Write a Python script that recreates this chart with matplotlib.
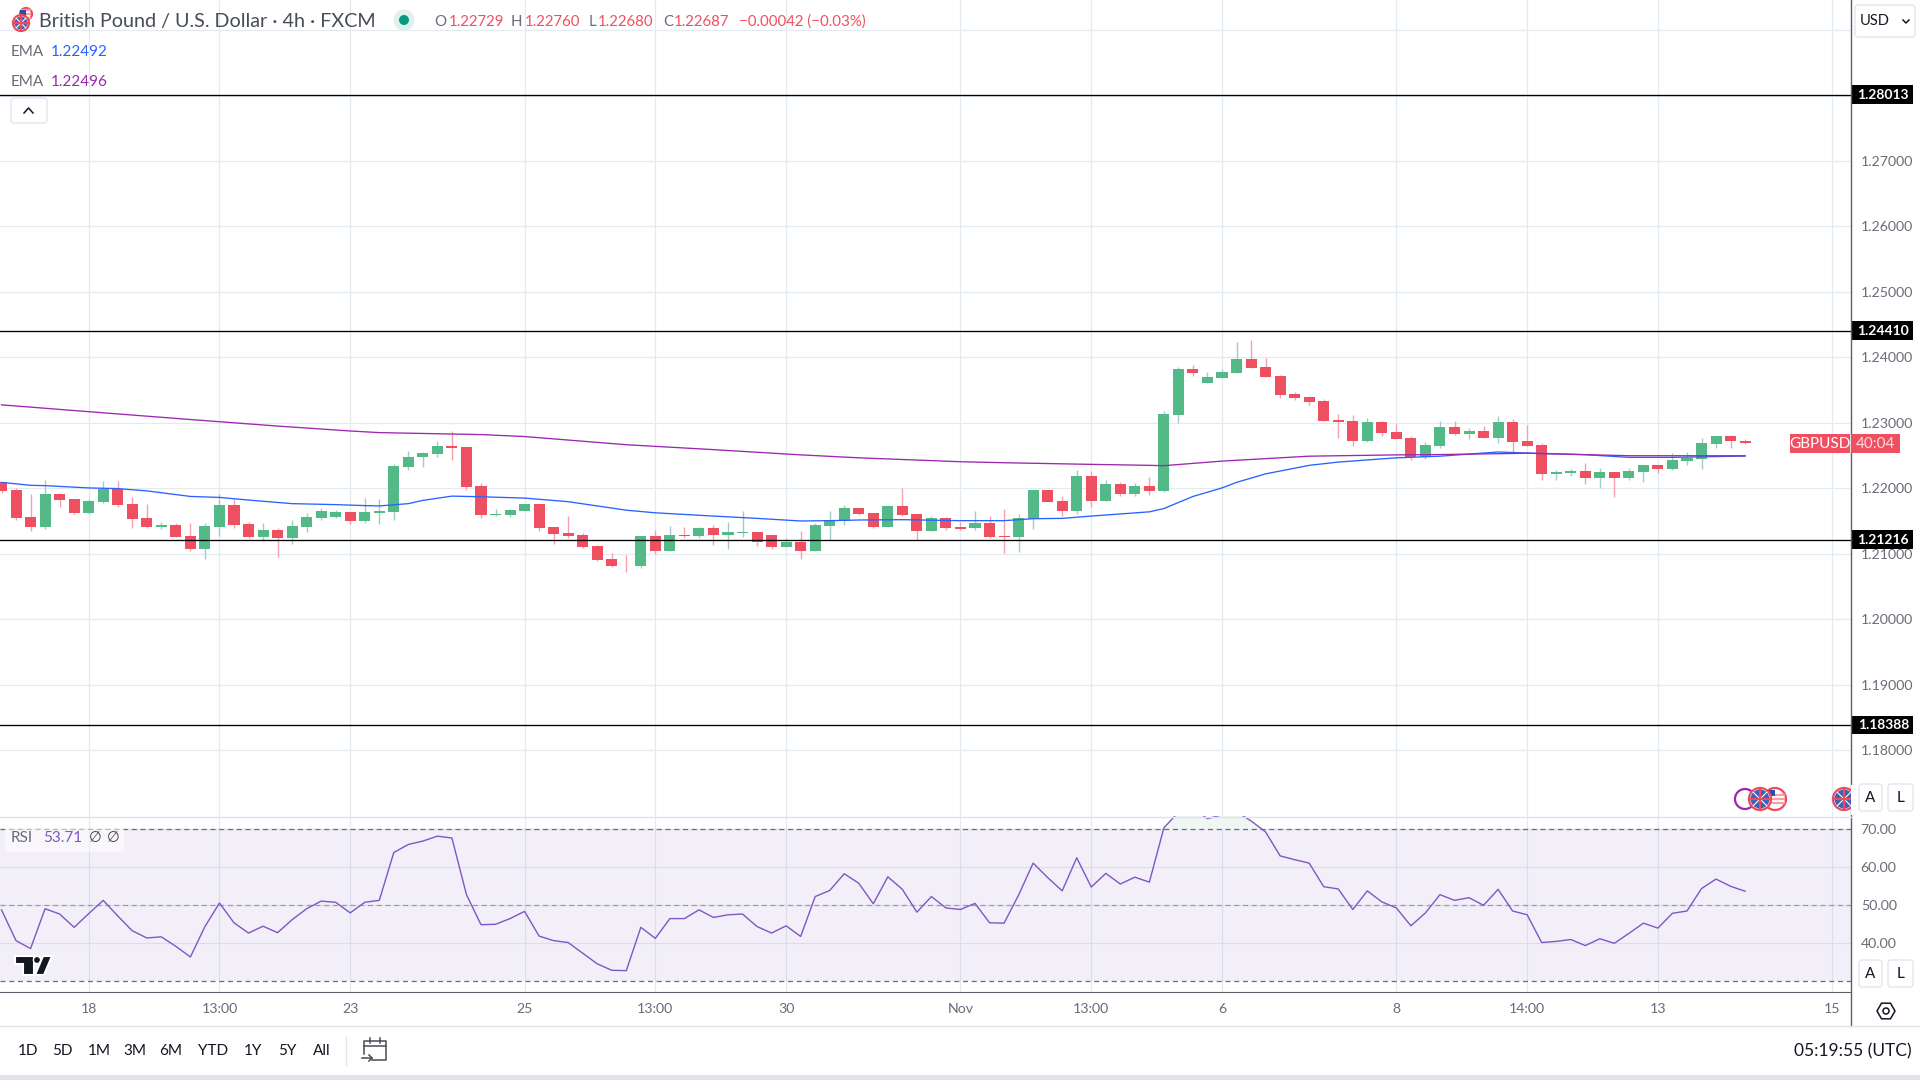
import numpy as np
import matplotlib
matplotlib.use('Agg')
import matplotlib.pyplot as plt
from matplotlib.patches import Rectangle, Circle, FancyBboxPatch, Polygon

plt.rcParams['font.family'] = ['Lato', 'DejaVu Sans']

# candles, one entry per 4h bar
opens = [1.2210,1.21975,1.21555,1.21405,1.21915,1.2184,1.21615,1.21795,1.2199,1.21765,1.2154,1.21405,1.21435,1.2127,1.21075,1.21405,1.2175,1.2145,1.21255,1.2136,1.2124,1.21405,1.2154,1.21555,1.2163,1.21495,1.21615,1.2163,1.2232,1.2247,1.2253,1.2265,1.22635,1.22035,
         1.21585,1.21585,1.2166,1.21765,1.21405,1.21315,1.21285,1.2112,1.20925,1.2082,1.20805,1.2127,1.21045,1.21285,1.2127,1.2139,1.21285,1.21315,1.2133,1.21285,1.21105,1.2118,1.21045,1.2142,1.21495,1.21705,1.21615,1.21405,1.21735,1.216,1.21345,1.2154,1.21405,
         1.2140,1.21475,1.21265,1.2125,1.21535,1.2197,1.21805,1.21655,1.2218,1.21805,1.2206,1.2191,1.2203,1.21955,1.23125,1.23815,1.23605,1.2368,1.23755,1.2398,1.23845,1.2371,1.2344,1.23395,1.23335,1.2305,1.2302,1.2272,1.23005,1.22855,1.22765,1.2248,
         1.2264,1.2293,1.22836,1.22882,1.22774,1.23005,1.22728,1.22667,1.2222,1.22236,1.22266,1.22159,1.22251,1.22159,1.22251,1.22359,1.22297,1.2242,1.22451,1.22682,1.22805,1.22729]
highs = [1.2210,1.2200,1.21915,1.22125,1.2193,1.2184,1.2184,1.2211,1.2211,1.2187,1.21765,1.2148,1.21465,1.21465,1.21465,1.21915,1.2184,1.2148,1.21465,1.2139,1.2151,1.21615,1.21705,1.21675,1.2163,1.21855,1.2184,1.22365,1.22575,1.2256,1.22725,1.22875,1.22635,1.2208,
         1.2169,1.2169,1.21765,1.21765,1.21405,1.2157,1.21315,1.21135,1.21015,1.20985,1.2127,1.2136,1.2142,1.21405,1.21405,1.21435,1.2148,1.21645,1.2133,1.21285,1.2124,1.21345,1.21465,1.2166,1.2175,1.21705,1.21615,1.2175,1.22005,1.216,1.2157,1.21555,1.2148,
         1.21655,1.2158,1.21685,1.2161,1.2197,1.21985,1.2188,1.22285,1.2227,1.2212,1.2209,1.22075,1.22165,1.23185,1.2386,1.2389,1.2377,1.23815,1.24235,1.24265,1.23995,1.23725,1.2347,1.2341,1.23365,1.2314,1.23125,1.2308,1.2302,1.22975,1.22795,1.22705,
         1.2302,1.2302,1.22928,1.22944,1.23097,1.23051,1.22959,1.22697,1.22282,1.22297,1.2239,1.22313,1.22251,1.22313,1.22359,1.22359,1.22543,1.22559,1.22774,1.22805,1.2282,1.22760]
lows = [1.21935,1.2151,1.21345,1.21375,1.2172,1.2160,1.2160,1.2178,1.2172,1.2139,1.2139,1.21375,1.21255,1.21045,1.20925,1.2127,1.2139,1.2124,1.21195,1.20955,1.2115,1.2133,1.2151,1.2154,1.2145,1.21465,1.2145,1.2151,1.22275,1.2232,1.22485,1.22425,1.21975,1.2154,
        1.2157,1.21555,1.2166,1.21345,1.2115,1.2124,1.2109,1.20895,1.2079,1.20715,1.20775,1.2100,1.21045,1.2124,1.2124,1.21135,1.21075,1.21255,1.2112,1.21075,1.21105,1.20925,1.21045,1.2121,1.21435,1.21585,1.2139,1.21405,1.2157,1.2121,1.21345,1.2136,1.2136,
        1.21355,1.21235,1.2101,1.21025,1.2137,1.2179,1.2158,1.2161,1.21715,1.21805,1.2188,1.2188,1.21895,1.2194,1.2299,1.2371,1.23605,1.2368,1.23755,1.2383,1.23695,1.2338,1.2335,1.23275,1.23035,1.22765,1.22645,1.22705,1.22795,1.2275,1.22435,1.2245,
        1.2262,1.2282,1.22759,1.22774,1.22697,1.22543,1.22651,1.22128,1.22128,1.2219,1.22066,1.22005,1.21866,1.22128,1.22097,1.22236,1.22282,1.22359,1.22297,1.2262,1.2262,1.22680]
closes = [1.2196,1.2154,1.21405,1.21915,1.21825,1.21615,1.2181,1.2199,1.2175,1.21525,1.21405,1.21435,1.21255,1.21075,1.2142,1.2175,1.21435,1.21255,1.2136,1.2124,1.2142,1.21555,1.21645,1.2163,1.21495,1.2163,1.21645,1.22335,1.22485,1.22545,1.2265,1.2262,1.2202,1.21585,
          1.2160,1.21675,1.21765,1.2139,1.2130,1.2127,1.21105,1.2091,1.20805,1.20805,1.2127,1.21045,1.21285,1.2127,1.2139,1.21285,1.2133,1.2133,1.2118,1.21105,1.2118,1.21045,1.21435,1.2151,1.21705,1.2160,1.21405,1.21735,1.21585,1.21345,1.2154,1.2139,1.21375,
          1.21475,1.2125,1.2125,1.2155,1.2197,1.2179,1.21655,1.2218,1.21805,1.2206,1.2191,1.2203,1.21955,1.2314,1.23815,1.23755,1.23695,1.2377,1.2398,1.2383,1.23695,1.23425,1.2338,1.2332,1.23035,1.23005,1.2272,1.23005,1.2284,1.2275,1.2248,1.2266,
          1.2293,1.22836,1.22882,1.22774,1.23005,1.22713,1.22651,1.2222,1.22251,1.22266,1.22159,1.22251,1.22159,1.22266,1.22359,1.22297,1.22436,1.22466,1.22697,1.22805,1.22728,1.22687]

ema_blue_i = [0,2,3,6,8,10,13,15,17,20,23,25,26,28,29,31,33,36,39,41,43,45,49,52,55,57,59,62,66,69,71,73,75,79,80,82,84,85,87,90,92,96,99,103,105,109,112,115,120]
ema_blue = [1.2209,1.22045,1.2204,1.22005,1.21995,1.2196,1.21875,1.2186,1.2182,1.21765,1.2175,1.21735,1.2173,1.21765,1.21815,1.2188,1.2187,1.2185,1.21795,1.2173,1.21665,1.21625,1.21575,1.2154,1.2150,1.21505,1.21515,1.2152,1.21505,1.21505,1.21535,1.2154,1.21575,1.2164,1.2169,1.21875,1.22005,1.2209,1.2222,1.2235,1.224,1.22465,1.2249,1.22554,1.22538,1.22513,1.22472,1.22472,1.22492]
ema_purple_i = [0,6,13,19,24,26,33,36,43,45,49,55,59,66,69,75,79,80,84,90,96,99,103,105,112,120]
ema_purple = [1.23274,1.2317,1.2305,1.2295,1.22875,1.2285,1.2282,1.2279,1.22665,1.2264,1.2259,1.2251,1.22465,1.22405,1.2239,1.22365,1.2235,1.22345,1.22415,1.2249,1.2251,1.22515,1.22528,1.22535,1.22497,1.22496]

rsi = [48.8,40.7,38.6,49.1,47.7,44.2,47.8,51.3,47.2,43.3,41.4,41.7,39.2,36.4,44.4,50.6,45.4,42.7,44.5,42.8,46.2,49.1,51.1,50.8,48.0,50.8,51.3,63.9,66.0,66.9,68.2,67.7,52.8,44.9,45.0,46.5,48.4,41.9,40.7,40.2,37.4,34.6,32.9,32.8,44.2,
       41.3,46.5,46.5,48.8,46.8,47.5,47.7,44.4,42.7,44.6,41.8,52.3,53.9,58.3,55.8,50.4,57.5,54.2,48.2,52.3,49.3,48.9,50.5,45.4,45.3,52.7,61.1,57.3,53.8,62.5,54.8,58.4,55.6,57.4,56.1,70.4,74.5,75.5,72.8,73.8,74.6,72.2,69.3,
       63.0,62.0,61.1,54.9,54.3,48.9,53.8,50.9,49.3,44.6,48.0,52.8,51.3,52.0,50.0,54.2,48.5,47.5,40.2,40.5,41.0,39.4,41.2,40.0,42.6,45.3,44.0,47.9,48.5,54.4,56.9,55.0,53.71]

levels = [1.28013, 1.24410, 1.21216, 1.18388]
price_ticks = [1.18,1.19,1.20,1.21,1.22,1.23,1.24,1.25,1.26,1.27,1.28,1.29]
price_labels = ['1.18000','1.19000','1.20000','1.21000','1.22000','1.23000','1.24000','1.25000','1.26000','1.27000','','']
rsi_ticks = [40,50,60,70]
time_i = [6,15,24,36,45,54,66,75,84,96,105,114,126]
time_labels = ['18','13:00','23','25','13:00','30','Nov','13:00','6','8','14:00','13','15']
ranges = ['1D','5D','1M','3M','6M','YTD','1Y','5Y','All']
range_x = [28,62,99,135,171,213,253,287,322]

GREEN, RED = '#53b987', '#ef5061'
WICK_G, WICK_R = '#a6c9c9', '#f7a1ae'
GRID = '#e3ebf1'
AXC = '#5d606b'
TXT = '#6a6d78'

W, H = 1920, 1080
fig = plt.figure(figsize=(W/100, H/100), dpi=100, facecolor='white')
ax = fig.add_axes([0, (H-816)/H, 1851/W, 816/H])
rs = fig.add_axes([0, (H-992)/H, 1851/W, 176/H])
ui = fig.add_axes([0, 0, 1, 1], zorder=5)
ui.patch.set_alpha(0)
ui.set_xlim(0, W)
ui.set_ylim(H, 0)
ui.axis('off')

idx = np.arange(len(opens))
xl = (-1.5/14.53, 1849.5/14.53)

# price pane
for a in (ax, rs):
    a.set_xlim(*xl)
    for s in a.spines.values():
        s.set_visible(False)
    a.set_xticks(time_i)
    a.grid(True, color=GRID, lw=0.9)
    a.set_axisbelow(True)
    a.tick_params(length=0)

ax.set_ylim(1.23-(816-422.8)/6546, 1.23+422.8/6546)
ax.yaxis.tick_right()
ax.set_yticks(price_ticks)
ax.set_yticklabels(price_labels, fontsize=10.2, color=TXT)
ax.tick_params(axis='y', pad=7)
ax.set_xticklabels([])

ax.vlines(idx, lows, highs, colors=[WICK_G if c >= o else WICK_R for o, c in zip(opens, closes)], lw=1.0, zorder=2)
ax.bar(idx, np.abs(np.array(closes)-np.array(opens)), bottom=np.minimum(opens, closes), width=0.76,
       color=[GREEN if c >= o else RED for o, c in zip(opens, closes)], zorder=3)
ax.plot(ema_blue_i, ema_blue, color='#2962ff', lw=0.95, zorder=4)
ax.plot(ema_purple_i, ema_purple, color='#9c27b0', lw=0.95, zorder=4)

trans = ax.get_yaxis_transform()
for lv in levels:
    ax.axhline(lv, color='black', lw=0.95, zorder=5)
    ax.add_patch(Rectangle((1.0, lv-0.0014), 62/1851, 0.0028, transform=trans, fc='black', ec='none', clip_on=False, zorder=6))
    ax.text(1.0+58/1851, lv, f'{lv:.5f}', transform=trans, color='white', fontsize=10, fontweight='bold', ha='right', va='center', clip_on=False, zorder=7)

# rsi pane
rs.set_ylim(40-(992-943.3)/3.8, 73.5)
rs.yaxis.tick_right()
rs.set_yticks(rsi_ticks)
rs.set_yticklabels(['40.00','50.00','60.00','70.00'], fontsize=10.2, color=TXT)
rs.tick_params(axis='y', pad=7)
rs.set_xticklabels(time_labels, fontsize=10.2, color=TXT)
rs.tick_params(axis='x', pad=8)
rs.spines['bottom'].set_visible(True)
rs.spines['bottom'].set_color(AXC)
rs.axhspan(30, 70, color='#7e57c2', alpha=0.09, lw=0, zorder=1)
rs.fill_between(idx, rsi, 70, where=np.array(rsi) > 70, interpolate=True, color='#eef7f2', lw=0, zorder=1)
rs.axhline(70, color='#6a6d78', lw=0.9, dashes=(4, 3), zorder=2)
rs.axhline(50, color='#9a9ca6', lw=0.9, dashes=(4, 3), zorder=2)
rs.axhline(30, color='#6a6d78', lw=0.9, dashes=(4, 3), zorder=2)
rs.plot(idx, rsi, color='#7e57c2', lw=1.0, zorder=3)


# interface parts around the panes
def flag(x, y, r, kind):
    col = '#f0485c' if kind != 'ema' else '#9c27b0'
    ui.add_patch(Circle((x, y), r, fc='white', ec=col, lw=1.6, zorder=8))
    if kind == 'uk':
        ui.add_patch(Circle((x, y), r-1.5, fc='#3a62b8', ec='none', zorder=8))
        ui.plot([x-r*0.6, x+r*0.6], [y-r*0.6, y+r*0.6], color='white', lw=0.8, zorder=9)
        ui.plot([x-r*0.6, x+r*0.6], [y+r*0.6, y-r*0.6], color='white', lw=0.8, zorder=9)
        ui.plot([x-r+2, x+r-2], [y, y], color='#f0485c', lw=1.6, zorder=9)
        ui.plot([x, x], [y-r+2, y+r-2], color='#f0485c', lw=1.6, zorder=9)
    elif kind == 'us':
        for dy in (-4, 0, 4):
            ui.plot([x-r+2, x+r-2], [y+dy, y+dy], color='#f6a0a8', lw=1.6, zorder=8)
        ui.add_patch(Rectangle((x-6, y-r+2), 6, 6, fc='#2a4fa8', ec='none', zorder=8))


def button(x0, y0, x1, y1, label=None):
    ui.add_patch(FancyBboxPatch((x0+2, y0+2), x1-x0-4, y1-y0-4, boxstyle='round,pad=2,rounding_size=3', fc='white', ec='#e0e3eb', lw=0.9, zorder=10))
    if label:
        ui.text((x0+x1)/2, (y0+y1)/2, label, ha='center', va='center', fontsize=11, color='#131722', zorder=11)


ui.plot([1850.5, 1850.5], [0, 1026], color=AXC, lw=1.0, zorder=7)
ui.plot([0, 1851], [816.5, 816.5], color='#e0e3eb', lw=1.0, zorder=7)
ui.plot([0, W], [1026, 1026], color='#e0e3eb', lw=1.0, zorder=7)
ui.add_patch(Rectangle((0, 1075), W, 5, fc='#e0e3eb', ec='none'))

# header
flag(26, 14, 6, 'us')
flag(21, 23, 8, 'uk')
ui.text(39, 21.5, 'British Pound / U.S. Dollar · 4h · FXCM', fontsize=14.2, color='#4a4c55', va='center')
ui.add_patch(Circle((404, 20), 10.5, fc='#dff1ec', ec='none'))
ui.add_patch(Circle((404, 20), 5, fc='#089981', ec='none'))
for x, s, c in [(434, 'O', TXT), (449, '1.22729', RED), (511, 'H', TXT), (525, '1.22760', RED), (589, 'L', TXT), (598, '1.22680', RED),
                (663, 'C', TXT), (674, '1.22687', RED), (739, '−0.00042 (−0.03%)', RED)]:
    ui.text(x, 21.5, s, fontsize=10.8, color=c, va='center')
ui.text(11, 52, 'EMA', fontsize=11, color=TXT, va='center')
ui.text(51, 52, '1.22492', fontsize=11, color='#2962ff', va='center')
ui.text(11, 82, 'EMA', fontsize=11, color=TXT, va='center')
ui.text(51, 82, '1.22496', fontsize=11, color='#9c27b0', va='center')
button(11, 98, 47, 123)
ui.plot([24, 28.5, 33], [113, 108, 113], color='#131722', lw=1.1, zorder=11)

button(1855, 5, 1915, 37)
ui.text(1860, 21, 'USD', fontsize=10.5, color='#131722', va='center', zorder=11)
ui.plot([1903, 1906, 1909], [20, 23, 20], color='#131722', lw=1.1, zorder=11)

# last price tag
ui.add_patch(Rectangle((1790, 434), 60, 19, fc=RED, ec='none', zorder=8))
ui.add_patch(Rectangle((1851, 434), 49, 19, fc=RED, ec='none', zorder=8))
ui.text(1820, 444, 'GBPUSD', fontsize=11, color='white', ha='center', va='center', zorder=9)
ui.text(1875.5, 444, '40:04', fontsize=11, color='#fbdde1', ha='center', va='center', zorder=9)

# events
flag(1745, 799, 10, 'ema')
flag(1775, 799, 11, 'us')
flag(1760, 799, 11, 'uk')
flag(1844, 799, 11, 'uk')
ui.add_patch(Rectangle((1851, 785), 69, 30, fc='white', ec='none', zorder=9))
button(1859, 784, 1882, 811, 'A')
button(1888, 784, 1913, 811, 'L')
button(1859, 960, 1882, 987, 'A')
button(1888, 960, 1913, 987, 'L')

# rsi legend
ui.add_patch(Rectangle((5, 829), 119, 23, fc='white', alpha=0.55, ec='none', zorder=6))
ui.text(11, 838, 'RSI', fontsize=11, color=TXT, va='center', zorder=7)
ui.text(43, 838, '53.71', fontsize=11, color='#7e57c2', va='center', zorder=7)
ui.text(95, 838, '∅', fontsize=10.5, color='#444', ha='center', va='center', zorder=7)
ui.text(113, 838, '∅', fontsize=10.5, color='#444', ha='center', va='center', zorder=7)

# tradingview logo
ui.add_patch(Polygon([(15, 956), (34, 956), (34, 975), (23, 975), (23, 964), (15, 964)], fc='#131722', ec='white', lw=1.5, zorder=7))
ui.add_patch(Circle((37, 960), 3.6, fc='#131722', ec='white', lw=1, zorder=7))
ui.add_patch(Polygon([(43, 956), (52, 956), (44, 975), (35, 975)], fc='#131722', ec='white', lw=1.5, zorder=7))

# range bar
for x, s in zip(range_x, ranges):
    ui.text(x, 1051, s, fontsize=11, color='#131722', ha='center', va='center')
ui.plot([345.5, 345.5], [1037, 1065], color='#e0e3eb', lw=1.0)
ui.plot([364, 364, 386, 386, 372], [1054, 1041, 1041, 1060, 1060], color='#4a4c55', lw=1.1)
ui.plot([364, 386], [1046, 1046], color='#4a4c55', lw=1.1)
ui.plot([370, 370], [1038, 1043], color='#4a4c55', lw=1.1)
ui.plot([380, 380], [1038, 1043], color='#4a4c55', lw=1.1)
ui.plot([362, 372], [1058, 1058], color='#4a4c55', lw=1.1)
ui.plot([369, 372, 369], [1055, 1058, 1061], color='#4a4c55', lw=1.1)
ui.text(1912, 1051, '05:19:55 (UTC)', fontsize=12.5, color='#131722', ha='right', va='center')

# settings
ang = np.deg2rad(np.arange(0, 360, 60))
ui.add_patch(Polygon(np.c_[1886+9*np.cos(ang), 1011+9*np.sin(ang)], fc='none', ec='#131722', lw=1.1))
ui.add_patch(Circle((1886, 1011), 3, fc='none', ec='#131722', lw=1.1))

fig.savefig('out.png', dpi=100)
